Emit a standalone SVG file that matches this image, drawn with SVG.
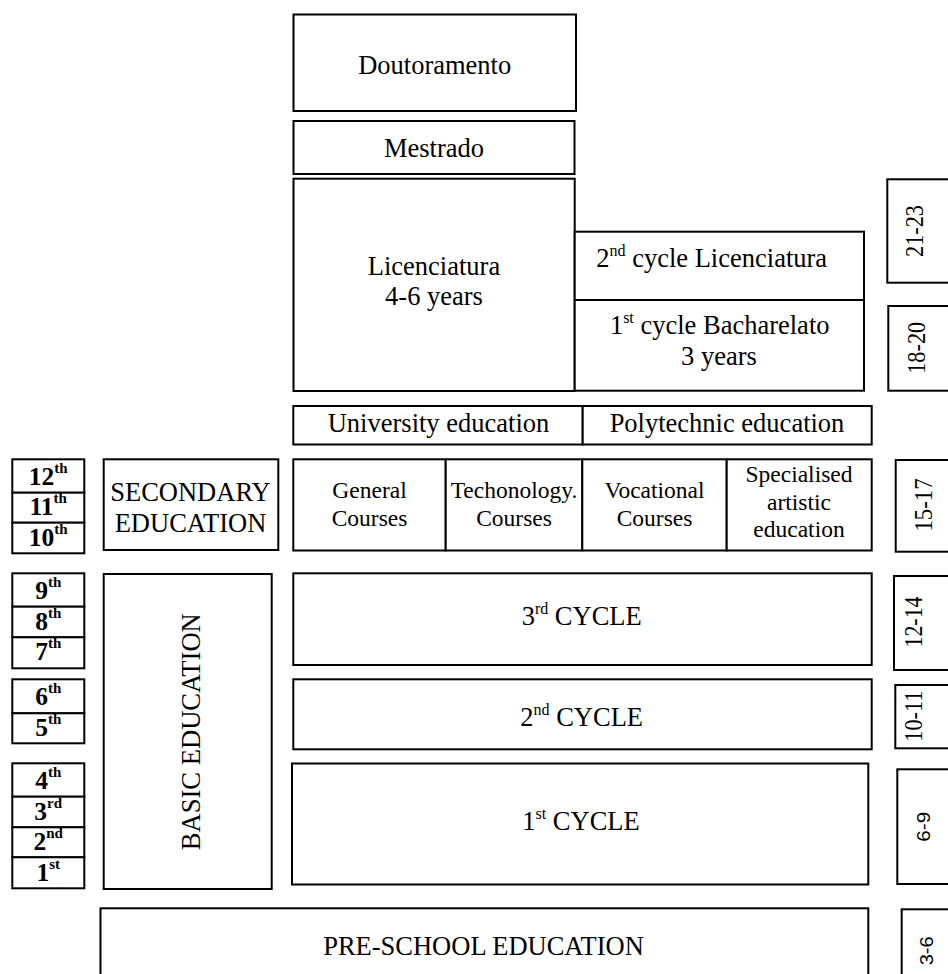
<svg xmlns="http://www.w3.org/2000/svg" width="948" height="974" viewBox="0 0 948 974">
<style>
rect{fill:#fff;stroke:#000;stroke-width:2}
text{font-family:"Liberation Serif","Times New Roman",serif;fill:#000;font-size:26.5px;text-anchor:middle}
.c{font-size:23.5px}
.g{font-weight:bold;font-size:25.5px}
.gs{font-size:15px}
.s{font-size:16px}
.a{font-size:26px}
.sans{font-family:"Liberation Sans",Arial,sans-serif;font-size:18.5px}
</style>
<rect x="0" y="0" width="948" height="974" style="stroke:none"/>
<g id="connectors"/>
<g id="doutoramento"><rect x="293.5" y="14.5" width="282.5" height="96.5"/><text x="434.7" y="74">Doutoramento</text></g>
<g id="mestrado"><rect x="293.5" y="121" width="281" height="53"/><text x="434" y="156.7">Mestrado</text></g>
<g id="licenciatura"><rect x="293.5" y="178.7" width="281.2" height="212.3"/><text x="434" y="275">Licenciatura</text><text x="434" y="305">4-6 years</text></g>
<g id="cycle2-lic"><rect x="574.7" y="231.7" width="289.3" height="68.3"/><text x="711.7" y="266.7">2<tspan class="s" dy="-11">nd</tspan><tspan dy="11"> cycle Licenciatura</tspan></text></g>
<g id="cycle1-bach"><rect x="574.7" y="300" width="289.3" height="90.7"/><text x="719.7" y="334">1<tspan class="s" dy="-11">st</tspan><tspan dy="11"> cycle Bacharelato</tspan></text><text x="719" y="365">3 years</text></g>
<g id="university"><rect x="293.3" y="406" width="289.4" height="38.5"/><text x="438.5" y="431.7">University education</text></g>
<g id="polytechnic"><rect x="582.7" y="406" width="289" height="38.5"/><text x="727" y="431.7">Polytechnic education</text></g>
<g id="general"><rect x="293.3" y="459.3" width="152.4" height="91.2"/><text class="c" x="369.5" y="498.3">General</text><text class="c" x="369.5" y="526">Courses</text></g>
<g id="technology"><rect x="445.7" y="459.3" width="136.6" height="91.2"/><text class="c" x="514" y="498.3">Techonology.</text><text class="c" x="514" y="526">Courses</text></g>
<g id="vocational"><rect x="582.3" y="459.3" width="144.4" height="91.2"/><text class="c" x="654.5" y="498.3">Vocational</text><text class="c" x="654.5" y="526">Courses</text></g>
<g id="artistic"><rect x="726.7" y="459.3" width="145" height="91.2"/><text class="c" x="799" y="481.7">Specialised</text><text class="c" x="799" y="509.5">artistic</text><text class="c" x="799" y="536.7">education</text></g>
<g id="secondary"><rect x="103.7" y="459.3" width="174.6" height="90.7"/><text x="190.5" y="500.7">SECONDARY</text><text x="190.5" y="531.7">EDUCATION</text></g>
<g id="grade12"><rect x="12.3" y="459.3" width="72" height="33.4"/><text class="g" x="48.2" y="485">12<tspan class="gs" dy="-12">th</tspan></text></g>
<g id="grade11"><rect x="12.3" y="492.7" width="72" height="30"/><text class="g" x="48.2" y="515">11<tspan class="gs" dy="-12">th</tspan></text></g>
<g id="grade10"><rect x="12.3" y="522.7" width="72" height="30.6"/><text class="g" x="48.2" y="545.7">10<tspan class="gs" dy="-12">th</tspan></text></g>
<g id="grade9"><rect x="12.3" y="573.3" width="72" height="33.4"/><text class="g" x="48.2" y="599">9<tspan class="gs" dy="-12">th</tspan></text></g>
<g id="grade8"><rect x="12.3" y="606.7" width="72" height="30.6"/><text class="g" x="48.2" y="630">8<tspan class="gs" dy="-12">th</tspan></text></g>
<g id="grade7"><rect x="12.3" y="637.3" width="72" height="31"/><text class="g" x="48.2" y="660">7<tspan class="gs" dy="-12">th</tspan></text></g>
<g id="grade6"><rect x="12.3" y="679.3" width="72" height="34"/><text class="g" x="48.2" y="705">6<tspan class="gs" dy="-12">th</tspan></text></g>
<g id="grade5"><rect x="12.3" y="713.3" width="72" height="30"/><text class="g" x="48.2" y="736">5<tspan class="gs" dy="-12">th</tspan></text></g>
<g id="grade4"><rect x="12.3" y="763.3" width="72" height="33.4"/><text class="g" x="48.2" y="789">4<tspan class="gs" dy="-12">th</tspan></text></g>
<g id="grade3"><rect x="12.3" y="796.7" width="72" height="30.6"/><text class="g" x="48.2" y="820">3<tspan class="gs" dy="-12">rd</tspan></text></g>
<g id="grade2"><rect x="12.3" y="827.3" width="72" height="30"/><text class="g" x="48.2" y="850">2<tspan class="gs" dy="-12">nd</tspan></text></g>
<g id="grade1"><rect x="12.3" y="857.3" width="72" height="31"/><text class="g" x="48.2" y="881">1<tspan class="gs" dy="-12">st</tspan></text></g>
<g id="basic"><rect x="103.7" y="574" width="168" height="315"/><text transform="translate(200,731.7) rotate(-90)" font-size="32" textLength="237" lengthAdjust="spacingAndGlyphs">BASIC EDUCATION</text></g>
<g id="cycle3"><rect x="293.3" y="573.3" width="578.4" height="91.7"/><text x="581.7" y="625">3<tspan class="s" dy="-11">rd</tspan><tspan dy="11"> CYCLE</tspan></text></g>
<g id="cycle2"><rect x="293.3" y="679.3" width="578.4" height="70"/><text x="581.7" y="726">2<tspan class="s" dy="-11">nd</tspan><tspan dy="11"> CYCLE</tspan></text></g>
<g id="cycle1"><rect x="292" y="763.5" width="576.3" height="121"/><text x="581" y="830">1<tspan class="s" dy="-11">st</tspan><tspan dy="11"> CYCLE</tspan></text></g>
<g id="preschool"><rect x="100.5" y="908.3" width="767.8" height="90"/><text x="483.5" y="955">PRE-SCHOOL EDUCATION</text></g>
<g id="age21-23"><rect x="887.3" y="179.3" width="80" height="103.4"/><text class="a" transform="translate(923.3,231) rotate(-90)" textLength="52" lengthAdjust="spacingAndGlyphs">21-23</text></g>
<g id="age18-20"><rect x="888.3" y="306" width="80" height="84.7"/><text class="a" transform="translate(924.5,347.8) rotate(-90)" textLength="52" lengthAdjust="spacingAndGlyphs">18-20</text></g>
<g id="age15-17"><rect x="895.7" y="460" width="80" height="91.7"/><text class="a" transform="translate(931.5,505) rotate(-90)" textLength="53" lengthAdjust="spacingAndGlyphs">15-17</text></g>
<g id="age12-14"><rect x="894" y="576" width="80" height="94"/><text class="a" transform="translate(921.7,622) rotate(-90)" textLength="51" lengthAdjust="spacingAndGlyphs">12-14</text></g>
<g id="age10-11"><rect x="895.3" y="685" width="80" height="63.3"/><text class="a" transform="translate(921.7,716.2) rotate(-90)" textLength="51" lengthAdjust="spacingAndGlyphs">10-11</text></g>
<g id="age6-9"><rect x="897.3" y="769.3" width="80" height="114.7"/><text class="sans" transform="translate(929.7,826.7) rotate(-90)" textLength="30" lengthAdjust="spacingAndGlyphs">6-9</text></g>
<g id="age3-6"><rect x="901.7" y="909.3" width="80" height="90"/><text class="sans" transform="translate(933,950.8) rotate(-90)" textLength="29" lengthAdjust="spacingAndGlyphs">3-6</text></g>
</svg>
